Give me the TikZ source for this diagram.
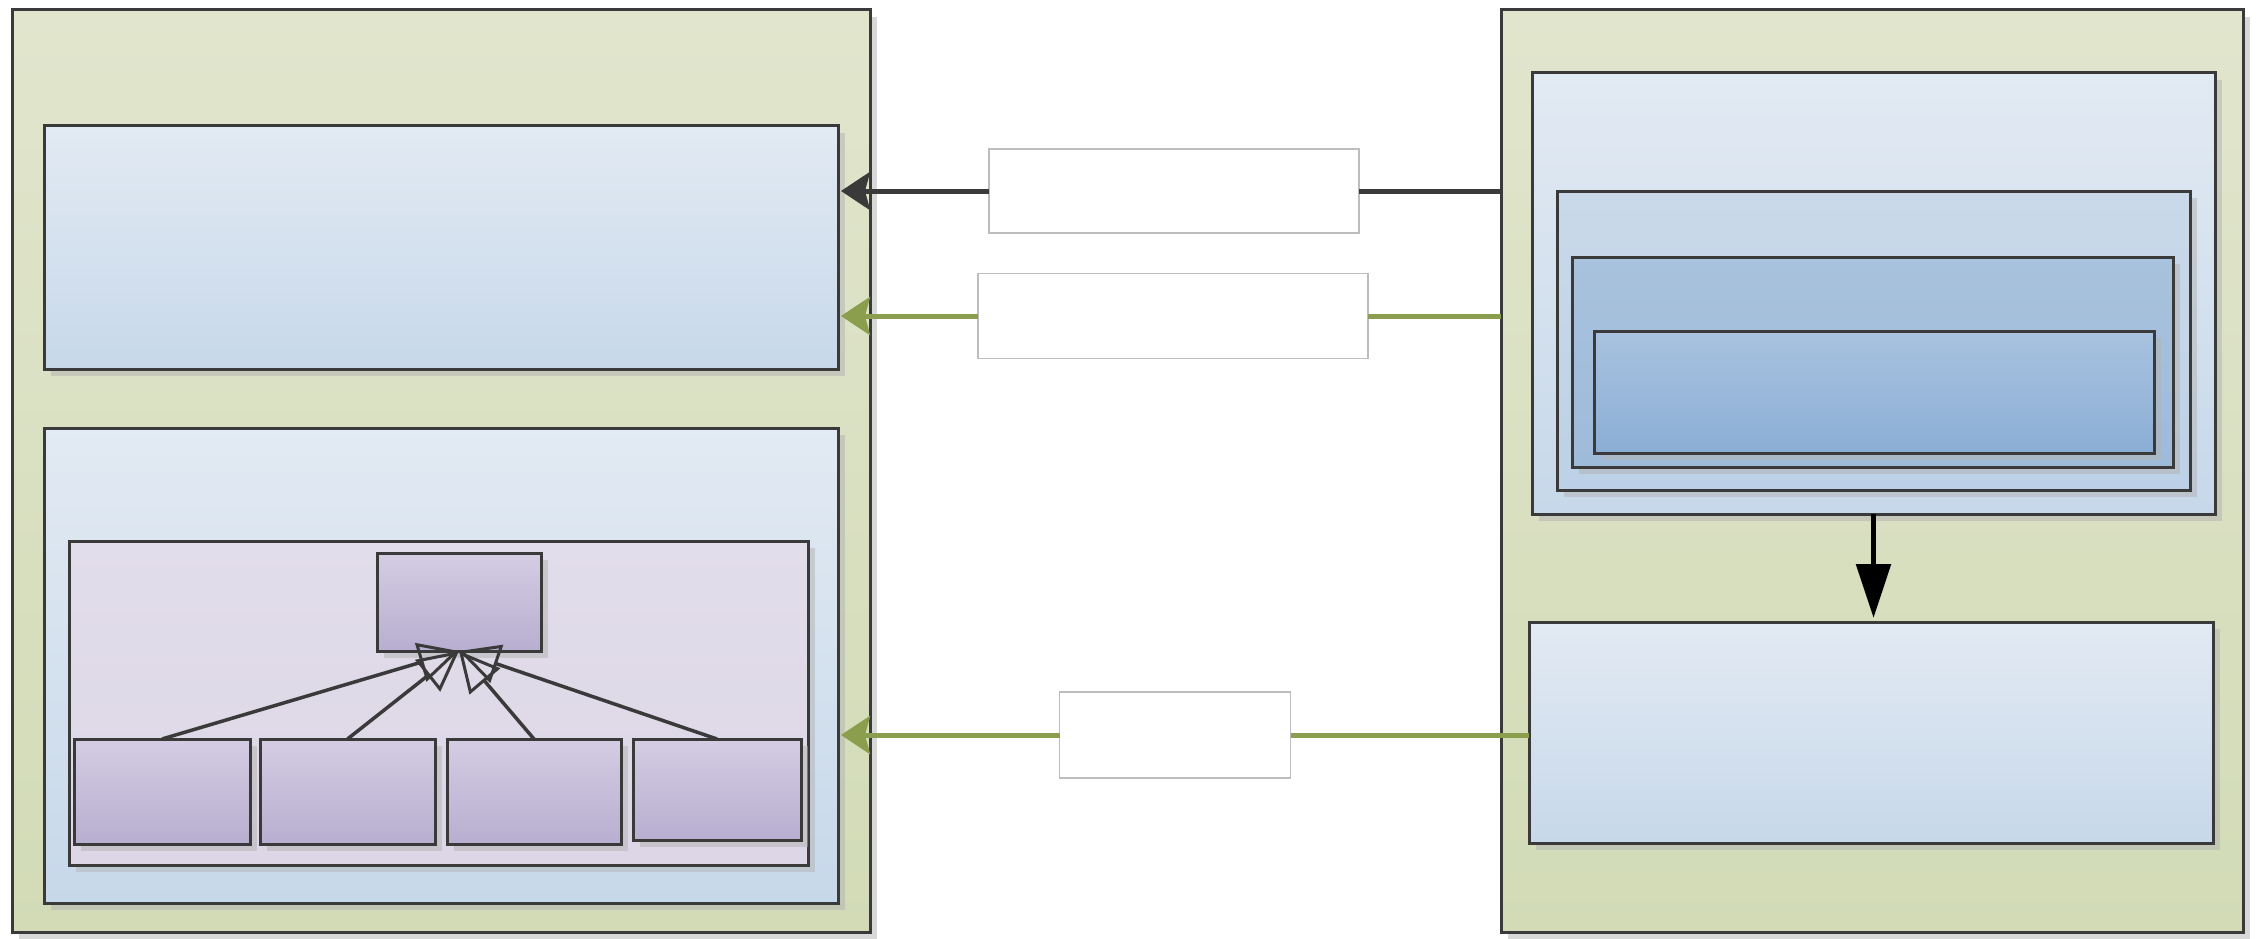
\documentclass[tikz,border=0pt]{standalone}
\usetikzlibrary{arrows.meta,shadows}
\definecolor{edge}{HTML}{3A3A3A}
\definecolor{greenT}{HTML}{E1E5CD}
\definecolor{greenB}{HTML}{D2DBB6}
\definecolor{blueT}{HTML}{E2EAF3}
\definecolor{blueB}{HTML}{C7D8EA}
\definecolor{in1T}{HTML}{CAD9E9}
\definecolor{in1B}{HTML}{BCD1E7}
\definecolor{in2T}{HTML}{A8C2DD}
\definecolor{in2B}{HTML}{9FBBDA}
\definecolor{in3T}{HTML}{A8C2DF}
\definecolor{in3B}{HTML}{8BAED5}
\definecolor{lavT}{HTML}{E2DDEA}
\definecolor{lavB}{HTML}{DCD6E6}
\definecolor{purT}{HTML}{D4CDE3}
\definecolor{purB}{HTML}{B8AED0}
\definecolor{arrowgreen}{HTML}{8A9E4E}
\definecolor{labelline}{HTML}{BDBDBD}
\tikzset{
  box/.style={draw=edge, line width=3pt, outer sep=0pt, inner sep=0pt, anchor=north west,
    drop shadow={shadow xshift=7pt, shadow yshift=-7pt, fill=black!30, opacity=.5}},
  panel/.style={box, top color=greenT, bottom color=greenB},
  bluebox/.style={box, top color=blueT, bottom color=blueB},
  innerone/.style={box, top color=in1T, bottom color=in1B},
  innertwo/.style={box, top color=in2T, bottom color=in2B},
  innerthree/.style={box, top color=in3T, bottom color=in3B},
  lavbox/.style={box, top color=lavT, bottom color=lavB},
  purbox/.style={box, top color=purT, bottom color=purB},
  labelbox/.style={draw=labelline, line width=1.2pt, fill=white, outer sep=0pt, inner sep=0pt},
  darkconn/.style={draw=edge, line width=5pt},
  greenconn/.style={draw=arrowgreen, line width=5pt},
  darktip/.style={-{Stealth[length=29pt,width=38pt,inset=5pt]}, shorten >=3pt},
  inherit/.style={draw=edge, line width=3.5pt, -{Triangle[open,length=40pt,width=40pt,line width=3pt]}},
  bigarrow/.style={draw=black, line width=5.5pt, -{Triangle[length=54pt,width=34pt]}, shorten >=4pt}
}
\begin{document}
\begin{tikzpicture}[x=1pt,y=-1pt]
\useasboundingbox (0,0) rectangle (2261,939);
% left panel
\node[panel, minimum width=858pt, minimum height=922pt] (lp) at (12,10) {};
\node[bluebox, minimum width=794pt, minimum height=243pt] (ltop) at (44,126) {};
\node[bluebox, minimum width=794pt, minimum height=475pt] (lbot) at (44,428) {};
\node[lavbox, minimum width=739pt, minimum height=324pt] (lav) at (69,541) {};
\node[purbox, minimum width=164pt, minimum height=98pt] (sup) at (377,553) {};
\node[purbox, minimum width=176pt, minimum height=105pt] (c1) at (74,739) {};
\node[purbox, minimum width=175pt, minimum height=105pt] (c2) at (260,739) {};
\node[purbox, minimum width=174pt, minimum height=105pt] (c3) at (447,739) {};
\node[purbox, minimum width=168pt, minimum height=101pt] (c4) at (633,739) {};
\draw[inherit] (c1.north) -- (sup.south);
\draw[inherit] (c2.north) -- (sup.south);
\draw[inherit] (c3.north) -- (sup.south);
\draw[inherit] (c4.north) -- (sup.south);
% right panel
\node[panel, minimum width=742pt, minimum height=922pt] (rp) at (1501,10) {};
\node[bluebox, minimum width=683pt, minimum height=441pt] (rtop) at (1532,73) {};
\node[innerone, minimum width=633pt, minimum height=299pt] (ra) at (1557,191) {};
\node[innertwo, minimum width=601pt, minimum height=210pt] (rb) at (1572,257) {};
\node[innerthree, minimum width=560pt, minimum height=122pt] (rc) at (1594,331) {};
\node[bluebox, minimum width=684pt, minimum height=221pt] (rbot) at (1529,622) {};
\draw[bigarrow] (rtop.south) -- (rtop.south |- rbot.north);
% labels
\node[labelbox, minimum width=370pt, minimum height=84pt] (la) at (1174,191) {};
\node[labelbox, minimum width=390pt, minimum height=85pt] (lb) at (1173,316) {};
\node[labelbox, minimum width=231pt, minimum height=86pt] (lc) at (1175,735) {};
% connectors
\draw[darkconn] (rp.west |- la) -- (la.east);
\draw[darkconn, darktip, fill=edge] (la.west) -- (ltop.east |- la);
\draw[greenconn] (rp.west |- lb) -- (lb.east);
\draw[greenconn, darktip, fill=arrowgreen] (lb.west) -- (ltop.east |- lb);
\draw[greenconn] (rbot.west |- lc) -- (lc.east);
\draw[greenconn, darktip, fill=arrowgreen] (lc.west) -- (lbot.east |- lc);
\end{tikzpicture}
\end{document}
